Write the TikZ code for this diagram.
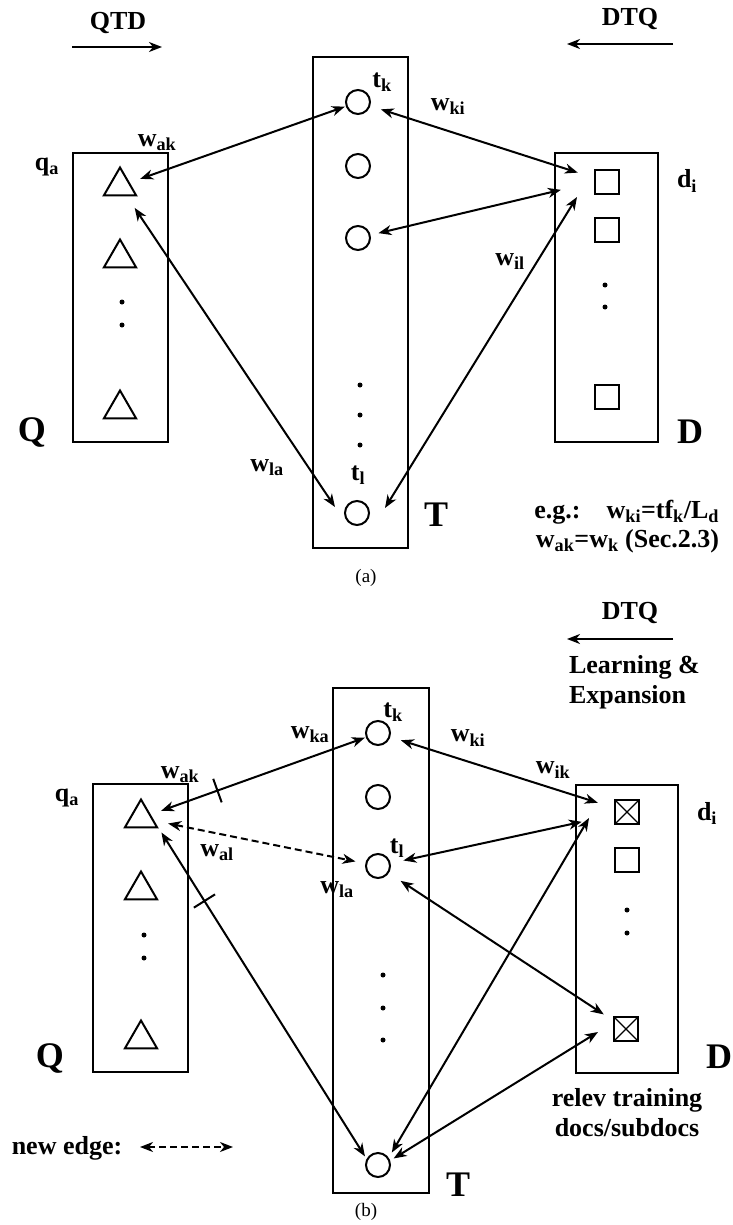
\documentclass[tikz,border=0pt]{standalone}
\usepackage{fontspec}
\setmainfont{Liberation Serif}
\usetikzlibrary{positioning,arrows.meta,shapes.geometric}
\newcommand{\wgt}[1]{w\textsubscript{#1}}

\begin{document}
\begin{tikzpicture}[x=1pt,y=-1pt,>={Stealth[length=13pt,width=10pt,inset=4pt]},line width=2pt,
  lab/.style={font=\bfseries\fontsize{26}{30}\selectfont,inner sep=0pt},
  biglab/.style={font=\bfseries\fontsize{36}{40}\selectfont,inner sep=0pt},
  caplab/.style={font=\fontsize{19}{22}\selectfont,inner sep=0pt},
  colbox/.style={draw,minimum width=95pt,inner sep=0pt},
  term/.style={draw,circle,minimum size=24pt,inner sep=0pt},
  qry/.style={draw,regular polygon,regular polygon sides=3,minimum size=37pt,inner sep=0pt},
  doc/.style={draw,rectangle,minimum size=24pt,inner sep=0pt},
  reldoc/.style={doc,path picture={\draw[line width=1.2pt]
    (path picture bounding box.north west)--(path picture bounding box.south east)
    (path picture bounding box.south west)--(path picture bounding box.north east);}},
  edgemark/.style={draw,minimum height=25pt,minimum width=0pt,inner sep=0pt,sloped},
  link/.style={<->},
  newlink/.style={<->,dash pattern=on 7pt off 4pt}]
\useasboundingbox (0,0) rectangle (732,1225);

% (a)
\node[lab] (qtd) at (118,23) {QTD};
\coordinate (qtdL) at (72,47);
\coordinate (qtdR) at (162,47);
\draw[->] (qtdL) -- (qtdR);
\node[lab] (dtqa) at (630,19) {DTQ};
\coordinate (dtqaL) at (567,44);
\coordinate (dtqaR) at (673,44);
\draw[->] (dtqaR) -- (dtqaL);

\node[colbox,minimum height=289pt] (Qa) at (120.5,297.5) {};
\node[colbox,minimum height=491pt] (Ta) at (360.5,302.5) {};
\node[colbox,minimum width=103pt,minimum height=289pt] (Da) at (606.5,297.5) {};

\node[qry] (qa1) at (120,186) {};
\node[qry] (qa2) at (120,258) {};
\node[qry] (qa3) at (120,409) {};
\foreach \y in {302,325} \fill (122,\y) circle (2.5pt);

\node[term] (tk) at (358,102) {};
\node[term] (tc2) at (358,166) {};
\node[term] (tc3) at (358,238) {};
\node[term] (tl) at (357,513) {};
\foreach \y in {385,415,445} \fill (360,\y) circle (2.5pt);

\node[doc] (di1) at (607,182) {};
\node[doc] (di2) at (607,230) {};
\node[doc] (di3) at (607,397) {};
\foreach \y in {285,307} \fill (605,\y) circle (2.5pt);

\node[lab] (qalab) at (47,167) {q\textsubscript{a}};
\node[lab] (dilab) at (687,181) {d\textsubscript{i}};
\node[lab] (tklab) at (382,82) {t\textsubscript{k}};
\node[lab] (tllab) at (358,475) {t\textsubscript{l}};
\node[lab] (waka) at (157,143) {\wgt{ak}};
\node[lab] (wkia) at (448,107) {\wgt{ki}};
\node[lab] (wila) at (510,262) {\wgt{il}};
\node[lab] (wlaa) at (267,468) {\wgt{la}};
\node[biglab] (Qlab) at (32,432) {Q};
\node[biglab] (Dlab) at (690,432) {D};
\node[biglab] (Tlab) at (436,515) {T};
\node[lab,anchor=base east] (eg) at (720,518) {e.g.:\quad\wgt{ki}=tf\textsubscript{k}/L\textsubscript{d}};
\node[lab,anchor=base east] (sec) at (720,547) {\wgt{ak}=w\textsubscript{k} (Sec.2.3)};
\node[caplab] (capa) at (366,578) {(a)};

\draw[link,shorten <=11pt,shorten >=1pt] (qa1) -- (tk);
\draw[link,shorten <=14pt] (qa1) -- ([shift={(-22,-6)}]tl.center);
\draw[link,shorten <=11pt,shorten >=17pt] (tk) -- (di1);
\draw[link,shorten <=8pt,shorten >=34pt] (tc3) -- (di1.west);
\draw[link] ([shift={(28,-5)}]tl.center) -- ([shift={(-17,2)}]di1.south west);

% (b)
\node[lab] (dtqb) at (630,613) {DTQ};
\coordinate (dtqbL) at (567,639);
\coordinate (dtqbR) at (673,639);
\draw[->] (dtqbR) -- (dtqbL);
\node[lab,anchor=west] (learn) at (568,667) {Learning \&};
\node[lab,anchor=west] (expn) at (568,697) {Expansion};

\node[colbox,minimum height=288pt] (Qb) at (140.5,928) {};
\node[colbox,minimum width=96pt,minimum height=505pt] (Tb) at (381,940.5) {};
\node[colbox,minimum width=102pt,minimum height=288pt] (Db) at (627,929) {};

\node[qry] (qb1) at (141,818) {};
\node[qry] (qb2) at (141,890) {};
\node[qry] (qb3) at (141,1039) {};
\foreach \y in {935,958} \fill (144,\y) circle (2.5pt);

\node[term] (tkb) at (378,733) {};
\node[term] (tcb2) at (378,797) {};
\node[term] (tlb) at (378,866) {};
\node[term] (tbb) at (378,1165) {};
\foreach \y in {975,1008,1040} \fill (383,\y) circle (2.5pt);

\node[reldoc] (dib1) at (627,812) {};
\node[doc] (dib2) at (627,860) {};
\node[reldoc] (dib3) at (626,1029) {};
\foreach \y in {910,933} \fill (627,\y) circle (2.5pt);

\node[lab] (qblab) at (67,798) {q\textsubscript{a}};
\node[lab] (diblab) at (707,813) {d\textsubscript{i}};
\node[lab] (tkblab) at (393,712) {t\textsubscript{k}};
\node[lab] (tlblab) at (397,848) {t\textsubscript{l}};
\node[lab] (wkab) at (310,735) {\wgt{ka}};
\node[lab] (wkib) at (468,738) {\wgt{ki}};
\node[lab] (wikb) at (553,770) {\wgt{ik}};
\node[lab] (wakb) at (180,775) {\wgt{ak}};
\node[lab] (walb) at (217,853) {\wgt{al}};
\node[lab] (wlab) at (337,890) {\wgt{la}};
\node[biglab] (Qblab) at (50,1058) {Q};
\node[biglab] (Dblab) at (719,1057) {D};
\node[biglab] (Tblab) at (458,1185) {T};
\node[lab] (relev) at (627,1100) {relev training};
\node[lab] (subdocs) at (627,1128) {docs/subdocs};
\node[lab] (newedge) at (67,1148) {new edge:};
\coordinate (neL) at (140,1147);
\coordinate (neR) at (233,1147);
\draw[newlink] (neL) -- (neR);
\node[caplab] (capb) at (366,1212) {(b)};

\draw[link,shorten <=11pt,shorten >=1pt] (qb1) -- node[edgemark,pos=0.31]{} (tkb);
\draw[newlink,shorten <=14pt,shorten >=10pt] (qb1) -- (tlb);
\draw[link,shorten <=5pt,shorten >=3pt] (qb1.-30) -- node[edgemark,pos=0.22]{} (tbb.152);
\draw[link,shorten <=11pt,shorten >=17pt] (tkb) -- (dib1);
\draw[link,shorten <=13pt,shorten >=33pt] (tlb) -- (dib1);
\draw[link,shorten <=14pt,shorten >=11pt] (tlb) -- (dib3);
\draw[link,shorten <=6pt] (tbb.34) -- ([shift={(-25,6)}]dib1.west);
\draw[link,shorten <=4pt] (tbb.20) -- ([shift={(-28,3)}]dib3.center);
\end{tikzpicture}
\end{document}
